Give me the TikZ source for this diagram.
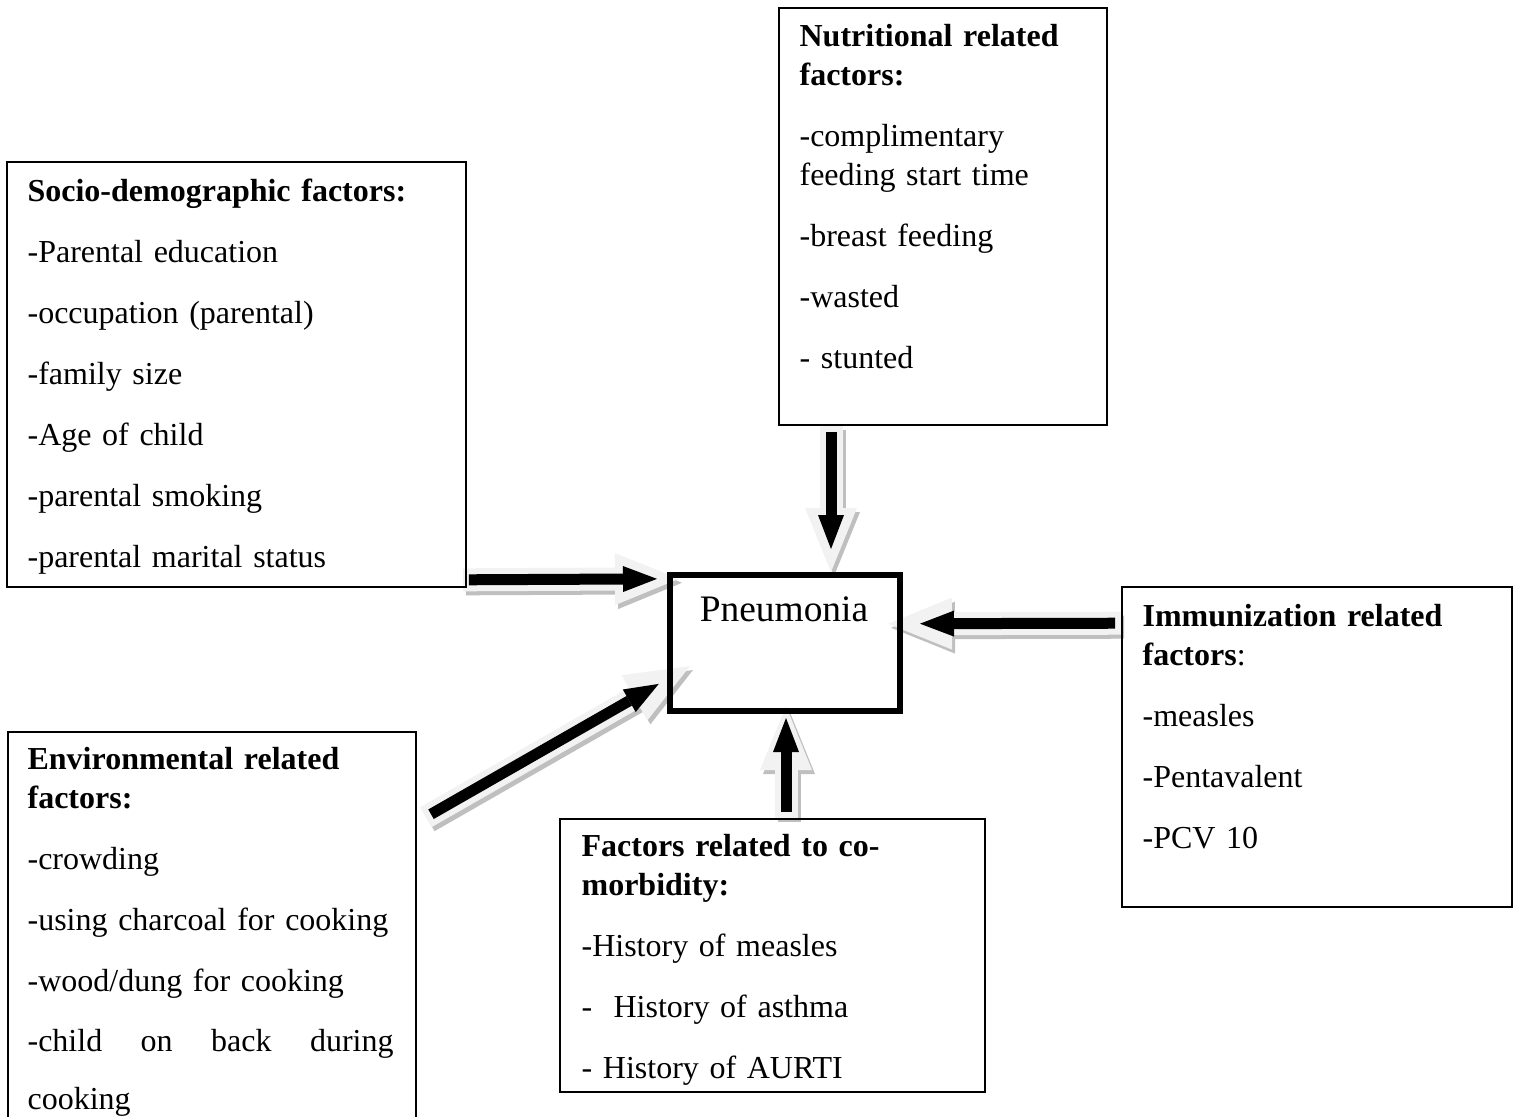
\documentclass[tikz,border=0pt]{standalone}
\usepackage{fontspec}
\setmainfont{Liberation Serif}
\usetikzlibrary{arrows.meta,positioning,backgrounds}

\newcommand{\bodyfont}{\fontsize{16pt}{19.5pt}\selectfont}
\newcommand{\pneufont}{\fontsize{18.7pt}{22pt}\selectfont}
\newcommand{\itemgap}{\\[11pt]}

% fat grey block arrow with a black arrow inside
\newcommand{\fatarrow}[3][]{%
  \draw[arrowshadow] ([shift={(3,4)}]#2) -- ([shift={(3,4)}]#3);
  \draw[arrowouter] (#2) -- (#3);
  \draw[arrowinner, #1] (#2) -- (#3);}

\begin{document}
\begin{tikzpicture}[
    x=0.5pt, y=-0.5pt,
    factorbox/.style={draw, line width=0.8pt, inner sep=0pt},
    boxtext/.style={anchor=base west, text width=200pt, align=left, inner sep=0pt, font=\bodyfont},
    arrowouter/.style={draw=black!5, line width=11.5pt, -{Triangle[length=32pt, width=26pt, line width=0pt]}},
    arrowshadow/.style={draw=black!25, line width=11.5pt, -{Triangle[length=32pt, width=26pt, line width=0pt]}},
    arrowinner/.style={draw=black, line width=5.5pt, -{Triangle[length=17pt, width=13pt, line width=0pt]}, shorten <=3pt, shorten >=12pt}
]
    \useasboundingbox (0,0) rectangle (1520,1116);

    % Boxes
    \node[factorbox, minimum width=229.5pt, minimum height=212.5pt] (socio) at (236.5,374.5) {};
    \node[factorbox, minimum width=164pt, minimum height=208.5pt] (nutri) at (943,216.5) {};
    \node[factorbox, minimum width=195pt, minimum height=160pt] (immun) at (1317,747) {};
    \node[factorbox, minimum width=212.5pt, minimum height=136.5pt] (comorb) at (772.5,955.5) {};
    \node[factorbox, minimum width=204pt, minimum height=209pt] (environ) at (212,941) {};
    \node[draw, line width=3pt, minimum width=115pt, minimum height=67.75pt] (pneu) at (785,642.75) {};
    \node[anchor=base, font=\pneufont] (pneutext) at ([shift={(-1,49)}]pneu.north) {Pneumonia};

    % Box texts
    \node[boxtext] (sociotext) at ([shift={(21,40)}]socio.north west)
        {\textbf{Socio-demographic factors:}\itemgap -Parental education\itemgap -occupation (parental)\itemgap -family size\itemgap -Age of child\itemgap -parental smoking\itemgap -parental marital status};
    \node[boxtext] (nutritext) at ([shift={(21,39)}]nutri.north west)
        {\textbf{Nutritional related}\\ \textbf{factors:}\itemgap -complimentary\\ feeding start time\itemgap -breast feeding\itemgap -wasted\itemgap - stunted};
    \node[boxtext] (immuntext) at ([shift={(21,40)}]immun.north west)
        {\textbf{Immunization related}\\ \textbf{factors}:\itemgap -measles\itemgap -Pentavalent\itemgap -PCV 10};
    \node[boxtext] (comorbtext) at ([shift={(22,38)}]comorb.north west)
        {\textbf{Factors related to co-}\\ \textbf{morbidity:}\itemgap -History of measles\itemgap -~~History of asthma\itemgap - History of AURTI};
    \node[boxtext] (environtext) at ([shift={(20,38)}]environ.north west)
        {\textbf{Environmental related}\\ \textbf{factors:}\itemgap -crowding\itemgap -using charcoal for cooking\itemgap -wood/dung for cooking\\[10.5pt]\makebox[183pt][l]{-child\hfill on\hfill back\hfill during}\\[9.5pt]cooking};

    % Arrows into the pneumonia box
    \begin{scope}[on background layer]
        \coordinate (socioTail) at ([shift={(-4,-8)}]socio.south east);
        \coordinate (socioTip) at ([shift={(12,-64)}]pneu.west);
        \coordinate (nutriTail) at ([shift={(-112,0)}]nutri.south);
        \coordinate (nutriTip) at ([shift={(46,0)}]pneu.north);
        \coordinate (immunTail) at ([shift={(0,37)}]immun.north west);
        \coordinate (immunTip) at ([shift={(-15,-19)}]pneu.east);
        \coordinate (comorbTail) at ([shift={(13.5,0)}]comorb.north);
        \coordinate (comorbTip) at ([shift={(1,-7.5)}]pneu.south);
        \coordinate (environTail) at ([shift={(9,86)}]environ.north east);
        \coordinate (environTip) at ([shift={(23,-47.5)}]pneu.south west);

        \fatarrow[shorten >=11pt]{socioTail}{socioTip}
        \fatarrow[shorten >=11.5pt]{nutriTail}{nutriTip}
        \fatarrow[shorten >=16pt]{immunTail}{immunTip}
        \fatarrow[shorten >=6pt]{comorbTail}{comorbTip}
        \fatarrow[shorten >=18pt]{environTail}{environTip}
    \end{scope}
\end{tikzpicture}
\end{document}
